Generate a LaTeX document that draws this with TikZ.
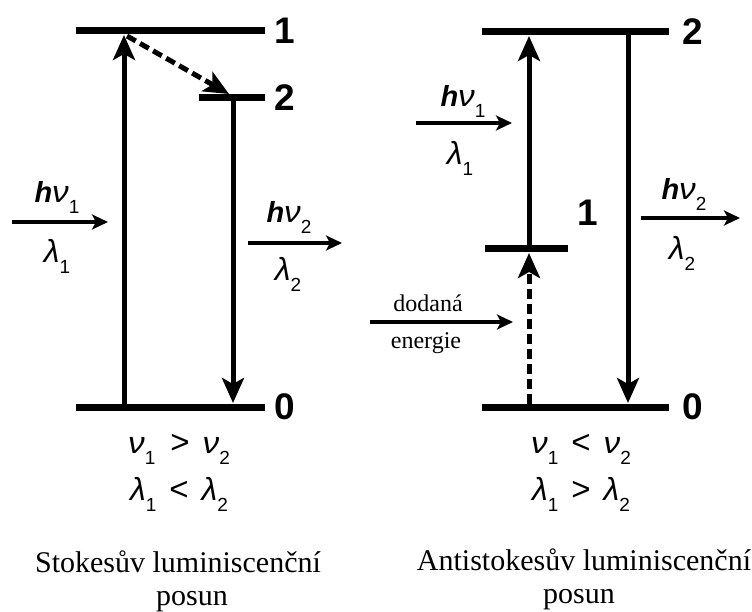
\documentclass[tikz,border=0pt]{standalone}
\usepackage{fontspec}
\setmainfont{Liberation Serif}
\newfontfamily\arl{Liberation Sans}
\usetikzlibrary{arrows.meta}
\newcommand\lsub[1]{\raisebox{-11pt}{\upshape\fontsize{19}{19}\selectfont #1}}
\newcommand\gnu{\scalebox{1.15}[1.05]{ν}}
\newcommand\glam{\scalebox{1.1}[1.1]{λ}}
\newcommand\rel[1]{{\upshape\fontsize{33}{33}\selectfont #1}}
\newcommand\hnu[1]{{\bfseries h}\gnu\lsub{#1}}
\tikzset{
  level/.style={line width=7pt},
  vup/.style={line width=5pt,-{Stealth[length=25pt,width=22pt,inset=6pt]}},
  vdash/.style={vup,dash pattern=on 10pt off 5pt},
  harr/.style={line width=4.5pt,-{Stealth[length=16pt,width=15pt,inset=4pt]}},
  num/.style={font=\arl\bfseries\fontsize{37}{37}\selectfont,inner sep=0pt},
  phot/.style={font=\arl\itshape\fontsize{29}{29}\selectfont,inner sep=0pt,anchor=base},
  eq/.style={font=\arl\itshape\fontsize{29}{29}\selectfont,inner sep=0pt,anchor=base},
  capt/.style={font=\fontsize{30}{30}\selectfont,inner sep=0pt,anchor=base},
  small/.style={font=\fontsize{24}{24}\selectfont,inner sep=0pt,anchor=base}
}
\begin{document}
\begin{tikzpicture}[x=1pt,y=-1pt]
\useasboundingbox (0,0) rectangle (752,612);
% ---------- left: Stokes ----------
\coordinate (L1a) at (76,31);  \coordinate (L1b) at (265,31);
\coordinate (L2a) at (199,98); \coordinate (L2b) at (265,98);
\coordinate (L0a) at (76,407); \coordinate (L0b) at (265,407);
\draw[level] (L1a) -- (L1b);
\draw[level] (L2a) -- (L2b);
\draw[level] (L0a) -- (L0b);
\node[num] (n1) at (285,31) {1};
\node[num] (n2) at (285,98) {2};
\node[num] (n0) at (285,407) {0};
\coordinate (ua) at (124,404); \coordinate (ub) at (124,35);
\draw[vup] (ua) -- (ub);
\coordinate (da) at (127,36); \coordinate (db) at (229,94);
\draw[vdash] (da) -- (db);
\coordinate (ea) at (233,101); \coordinate (eb) at (233,403);
\draw[vup] (ea) -- (eb);
\coordinate (h1a) at (12,222); \coordinate (h1b) at (108,222);
\draw[harr] (h1a) -- (h1b);
\node[phot] (hn1) at (57,203) {\hnu{1}};
\node[phot] (la1) at (57,263) {\glam\lsub{1}};
\coordinate (h2a) at (248,243); \coordinate (h2b) at (342,243);
\draw[harr] (h2a) -- (h2b);
\node[phot] (hn2) at (289,223) {\hnu{2}};
\node[phot] (la2) at (288,280) {\glam\lsub{2}};
\node[eq] (eqa) at (179,453) {\gnu\lsub{1}\hspace{15pt}\rel{>}\hspace{13pt}\gnu\lsub{2}};
\node[eq] (eqb) at (179,500) {\glam\lsub{1}\hspace{13pt}\rel{<}\hspace{13pt}\glam\lsub{2}};
\node[capt] (ca) at (178,572) {Stokesův luminiscenční};
\node[capt] (cb) at (192,605) {posun};
% ---------- right: anti-Stokes ----------
\coordinate (R2a) at (482,32);  \coordinate (R2b) at (669,32);
\coordinate (R1a) at (485,249); \coordinate (R1b) at (568,249);
\coordinate (R0a) at (482,407); \coordinate (R0b) at (669,407);
\draw[level] (R2a) -- (R2b);
\draw[level] (R1a) -- (R1b);
\draw[level] (R0a) -- (R0b);
\node[num] (m2) at (693,32) {2};
\node[num] (m1) at (588,213) {1};
\node[num] (m0) at (693,407) {0};
\coordinate (pa) at (529,246); \coordinate (pb) at (529,36);
\draw[vup] (pa) -- (pb);
\coordinate (qa) at (529,404); \coordinate (qb) at (529,253);
\draw[vdash] (qa) -- (qb);
\coordinate (ra) at (628,35); \coordinate (rb) at (628,403);
\draw[vup] (ra) -- (rb);
\coordinate (k1a) at (416,123); \coordinate (k1b) at (512,123);
\draw[harr] (k1a) -- (k1b);
\node[phot] (kn1) at (463,107) {\hnu{1}};
\node[phot] (kl1) at (460,165) {\glam\lsub{1}};
\coordinate (k2a) at (641,218); \coordinate (k2b) at (740,218);
\draw[harr] (k2a) -- (k2b);
\node[phot] (kn2) at (684,200) {\hnu{2}};
\node[phot] (kl2) at (682,260) {\glam\lsub{2}};
\coordinate (ga) at (370,322); \coordinate (gb) at (513,322);
\draw[harr] (ga) -- (gb);
\node[small] (gt) at (428,312) {dodaná};
\node[small] (gu) at (426,348) {energie};
\node[eq] (fqa) at (581,453) {\gnu\lsub{1}\hspace{13pt}\rel{<}\hspace{13pt}\gnu\lsub{2}};
\node[eq] (fqb) at (581,500) {\glam\lsub{1}\hspace{13pt}\rel{>}\hspace{13pt}\glam\lsub{2}};
\node[capt] (fa) at (584,570) {Antistokesův luminiscenční};
\node[capt] (fb) at (579,603) {posun};
\end{tikzpicture}
\end{document}
